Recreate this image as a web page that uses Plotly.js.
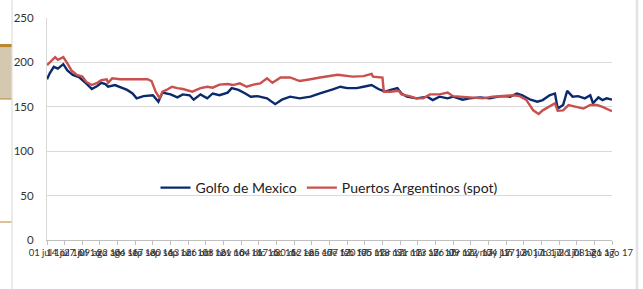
<!DOCTYPE html>
<html>
<head>
<meta charset="utf-8">
<script src="https://cdn.plot.ly/plotly-3.0.1.min.js"></script>
<style>html,body{margin:0;padding:0;background:#fff;}#chart{width:643px;height:289px;}</style>
</head>
<body>
<div id="chart"></div>
<script>
var golfoDates = ["2016-07-01","2016-07-03","2016-07-06","2016-07-09","2016-07-13","2016-07-16","2016-07-20","2016-07-25","2016-07-30","2016-08-03","2016-08-07","2016-08-10","2016-08-13","2016-08-15","2016-08-20","2016-08-25","2016-08-29","2016-09-02","2016-09-05","2016-09-10","2016-09-17","2016-09-21","2016-09-24","2016-09-30","2016-10-05","2016-10-09","2016-10-14","2016-10-17","2016-10-22","2016-10-27","2016-10-31","2016-11-05","2016-11-11","2016-11-14","2016-11-19","2016-11-24","2016-11-28","2016-12-03","2016-12-10","2016-12-16","2016-12-21","2016-12-27","2017-01-03","2017-01-11","2017-01-17","2017-01-18","2017-01-28","2017-02-02","2017-02-07","2017-02-14","2017-02-19","2017-02-25","2017-03-02","2017-03-07","2017-03-11","2017-03-16","2017-03-19","2017-03-23","2017-03-30","2017-04-07","2017-04-11","2017-04-16","2017-04-22","2017-04-26","2017-05-03","2017-05-08","2017-05-16","2017-05-23","2017-05-31","2017-06-07","2017-06-12","2017-06-16","2017-06-22","2017-06-27","2017-07-01","2017-07-06","2017-07-10","2017-07-12","2017-07-16","2017-07-19","2017-07-23","2017-07-27","2017-08-01","2017-08-05","2017-08-07","2017-08-11","2017-08-14","2017-08-17","2017-08-21"];
var golfoValues = [181,187.7,195,193,198,191,186,183,176,170,173.4,177,175.6,172.6,174.5,171,169,165,159.5,162,163,155.7,166,164,160.6,164,163,158,164,159.5,165,163,166,171,169,165,161.4,162,159.5,153,158,161.4,159.5,161.4,165,165,170,172.6,171,171,172.6,174.5,170,167,169,171,165,161.4,159.5,161.4,157.6,161.4,159.5,161.4,158,159.5,160.6,159.5,162,161.4,165,163,158,155.7,157.6,163,165,148,152,168,161.4,162,159.5,163,154,160.6,157.6,159.5,158];

var puertosDates = ["2016-07-01","2016-07-07","2016-07-09","2016-07-13","2016-07-16","2016-07-19","2016-07-23","2016-07-27","2016-07-30","2016-08-03","2016-08-07","2016-08-10","2016-08-14","2016-08-15","2016-08-18","2016-08-24","2016-09-03","2016-09-13","2016-09-16","2016-09-19","2016-09-22","2016-09-24","2016-09-27","2016-10-01","2016-10-05","2016-10-09","2016-10-16","2016-10-22","2016-10-27","2016-10-31","2016-11-05","2016-11-11","2016-11-15","2016-11-20","2016-11-25","2016-11-30","2016-12-05","2016-12-10","2016-12-14","2016-12-20","2016-12-27","2017-01-03","2017-01-11","2017-01-17","2017-01-18","2017-01-31","2017-02-11","2017-02-19","2017-02-25","2017-02-26","2017-03-05","2017-03-06","2017-03-11","2017-03-17","2017-03-19","2017-03-25","2017-03-30","2017-04-04","2017-04-09","2017-04-16","2017-04-22","2017-04-26","2017-05-03","2017-05-11","2017-05-18","2017-05-25","2017-06-02","2017-06-09","2017-06-14","2017-06-19","2017-06-24","2017-06-28","2017-07-01","2017-07-06","2017-07-10","2017-07-12","2017-07-16","2017-07-20","2017-07-25","2017-07-31","2017-08-05","2017-08-10","2017-08-14","2017-08-21"];
var puertosValues = [197,206,203,206,199,191,186,184,178,174.5,177,180,181,177,182,181,181,181,179,167,159.5,167,169,172.6,171,170,167,171,172.6,171.5,175,175.6,174.5,176.4,172.6,175,176.4,182,177,183,183,179,181,182,183,186,184,184.6,187,184,183,167,167,168,164,162,159.5,159.5,164,164,166,162,161.4,160.6,159.5,161.4,162,163,162,157.6,146,142,146,150,154,145.6,146,152,150,148,152,152,150,145];

var tickDates = ["2016-07-01","2016-07-14","2016-07-27","2016-08-09","2016-08-22","2016-09-04","2016-09-17","2016-09-30","2016-10-13","2016-10-26","2016-11-08","2016-11-21","2016-12-04","2016-12-17","2016-12-30","2017-01-12","2017-01-25","2017-02-07","2017-02-20","2017-03-05","2017-03-18","2017-03-31","2017-04-13","2017-04-26","2017-05-09","2017-05-22","2017-06-04","2017-06-17","2017-06-30","2017-07-13","2017-07-26","2017-08-08","2017-08-21"];
var tickLabels = ["01 jul 16","14 jul 16","27 jul 16","09 ago 16","22 ago 16","04 sep 16","17 sep 16","30 sep 16","13 oct 16","26 oct 16","08 nov 16","21 nov 16","04 dic 16","17 dic 16","30 dic 16","12 ene 17","25 ene 17","07 feb 17","20 feb 17","05 mar 17","18 mar 17","31 mar 17","13 abr 17","26 abr 17","09 may 17","22 may 17","04 jun 17","17 jun 17","30 jun 17","13 jul 17","26 jul 17","08 ago 17","21 ago 17"];

var seriesNames = ["Golfo de Mexico","Puertos Argentinos (spot)"];

var traces = [
  {x: golfoDates, y: golfoValues, type: 'scatter', mode: 'lines', name: seriesNames[0],
   line: {color: '#0B2A6B', width: 2.4}},
  {x: puertosDates, y: puertosValues, type: 'scatter', mode: 'lines', name: seriesNames[1],
   line: {color: '#C9504D', width: 2.4}}
];

var gold = '#B8882E';
var layout = {
  width: 643, height: 289,
  margin: {l: 47, r: 31, t: 18, b: 49},
  paper_bgcolor: '#ffffff', plot_bgcolor: '#ffffff',
  font: {family: 'Lato, "Open Sans", sans-serif', size: 11, color: '#333333'},
  showlegend: true,
  legend: {orientation: 'h', x: 0.5, xanchor: 'center', y: 0.234, yanchor: 'middle',
           bgcolor: 'rgba(0,0,0,0)', font: {size: 14, color: '#222222'}},
  xaxis: {type: 'date', range: ['2016-07-01', '2017-08-21'],
          tickmode: 'array', tickvals: tickDates, ticktext: tickLabels, tickangle: 0,
          tickfont: {size: 9.5, color: '#333333'},
          ticks: 'outside', ticklen: 4, tickcolor: '#bfbfbf',
          showline: true, linecolor: '#bfbfbf', linewidth: 1,
          showgrid: false, zeroline: false, fixedrange: true},
  yaxis: {range: [0, 250], dtick: 50, tick0: 0,
          showgrid: true, gridcolor: '#d9d9d9', gridwidth: 1,
          showline: true, linecolor: '#d9d9d9', linewidth: 1,
          ticks: 'outside', ticklen: 10, tickcolor: 'rgba(0,0,0,0)',
          tickfont: {size: 11.5, color: '#333333'},
          zeroline: false, fixedrange: true},
  shapes: [
    {type: 'line', xref: 'paper', yref: 'paper', x0: -0.0619, x1: -0.0619, y0: -0.23, y1: 1.09,
     line: {color: '#d6d6d6', width: 1}},
    {type: 'rect', xref: 'paper', yref: 'paper', x0: -0.09, x1: -0.0628, y0: 0.635, y1: 0.883,
     fillcolor: '#D5C8B1', line: {width: 0}},
    {type: 'rect', xref: 'paper', yref: 'paper', x0: -0.09, x1: -0.0628, y0: 0.869, y1: 0.883,
     fillcolor: gold, line: {width: 0}},
    {type: 'line', xref: 'paper', yref: 'paper', x0: -0.09, x1: -0.0628, y0: 0.635, y1: 0.635,
     line: {color: gold, width: 1}},
    {type: 'line', xref: 'paper', yref: 'paper', x0: -0.09, x1: -0.0628, y0: 0.081, y1: 0.081,
     line: {color: gold, width: 1}},
    {type: 'line', xref: 'paper', yref: 'paper', x0: 1.0442, x1: 1.0442, y0: -0.23, y1: 1.09,
     line: {color: '#e2e2e2', width: 2.5}}
  ]
};

Plotly.newPlot('chart', traces, layout, {displayModeBar: false, staticPlot: true});
</script>
</body>
</html>
